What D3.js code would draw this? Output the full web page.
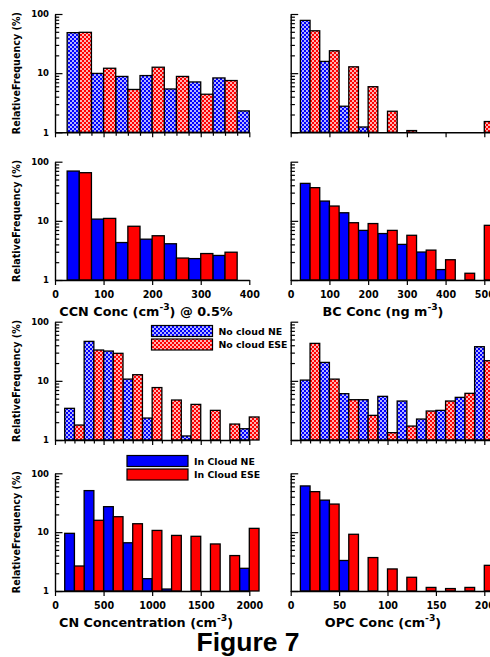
<!DOCTYPE html>
<html>
<head>
<meta charset="utf-8">
<script src="https://cdn.jsdelivr.net/npm/d3@7"></script>
<style>
  body { margin: 0; background: #fff; }
  svg { display: block; }
  text { font-family: "DejaVu Sans", Verdana, sans-serif; font-weight: bold; fill: #000; }
</style>
</head>
<body>
<svg id="fig" width="490" height="657"></svg>
<script>
// ---- CCN concentration @ 0.5% supersaturation (cm-3), 25 cm-3 bins ----
const ccnNoCloudNEStart  = [25, 75, 125, 175, 225, 275, 325, 375];
const ccnNoCloudNE       = [48.4, 9.9, 8.8, 9.1, 5.4, 7.1, 8.3, 2.3];
const ccnNoCloudESEStart = [50, 100, 150, 200, 250, 300, 350];
const ccnNoCloudESE      = [49.0, 12.1, 5.3, 12.6, 8.8, 4.4, 7.5];

const ccnInCloudNEStart  = [25, 75, 125, 175, 225, 275, 325];
const ccnInCloudNE       = [69.5, 10.7, 4.3, 4.9, 4.1, 2.3, 2.6];
const ccnInCloudESEStart = [50, 100, 150, 200, 250, 300, 350];
const ccnInCloudESE      = [65.2, 11.0, 8.1, 5.6, 2.35, 2.8, 2.95];

// ---- BC concentration (ng m-3), 25 ng m-3 bins ----
const bcNoCloudNEStart  = [25, 75, 125, 175];
const bcNoCloudNE       = [78, 15.8, 2.76, 1.23];
const bcNoCloudESEStart = [50, 100, 150, 200, 250, 300, 500];
const bcNoCloudESE      = [52, 23.9, 12.8, 5.9, 2.27, 1.07, 1.52];

const bcInCloudNEStart  = [25, 75, 125, 175, 225, 275, 325, 375];
const bcInCloudNE       = [43, 21.6, 13.7, 6.9, 6.1, 4.0, 2.97, 1.5];
const bcInCloudESEStart = [50, 100, 150, 200, 250, 300, 350, 400, 450, 500];
const bcInCloudESE      = [36.4, 17.8, 9.3, 9.0, 6.9, 5.7, 3.2, 2.2, 1.3, 8.4];

// ---- CN concentration (cm-3), 100 cm-3 bins ----
const cnNoCloudNEStart  = [100, 300, 500, 700, 900, 1300, 1900];
const cnNoCloudNE       = [3.43, 46.5, 31.9, 10.7, 2.35, 1.17, 1.55];
const cnNoCloudESEStart = [200, 400, 600, 800, 1000, 1200, 1400, 1600, 1800, 2000];
const cnNoCloudESE      = [1.79, 33.2, 29.2, 12.7, 7.7, 4.74, 4.0, 3.17, 1.86, 2.45];

const cnInCloudNEStart  = [100, 300, 500, 700, 900, 1100, 1900];
const cnInCloudNE       = [9.55, 50.8, 27.1, 6.6, 1.62, 1.08, 2.43];
const cnInCloudESEStart = [200, 400, 600, 800, 1000, 1200, 1400, 1600, 1800, 2000];
const cnInCloudESE      = [2.66, 15.9, 18.3, 13.9, 10.7, 8.8, 8.5, 6.3, 4.0, 11.6];

// ---- OPC concentration (cm-3), 10 cm-3 bins ----
const opcNoCloudNEStart  = [10, 30, 50, 70, 90, 110, 130, 150, 170, 190];
const opcNoCloudNE       = [10.3, 20.5, 6.07, 4.8, 5.47, 4.56, 2.26, 3.17, 5.26, 37.8];
const opcNoCloudESEStart = [20, 40, 60, 80, 100, 120, 140, 160, 180, 200];
const opcNoCloudESE      = [43, 10.7, 4.8, 2.61, 1.33, 1.72, 3.09, 4.56, 6.15, 21.9];

const opcInCloudNEStart  = [10, 30, 50];
const opcInCloudNE       = [61, 35, 3.3];
const opcInCloudESEStart = [20, 40, 60, 80, 100, 120, 140, 160, 180, 200];
const opcInCloudESE      = [48.8, 30, 9.2, 3.7, 2.37, 1.71, 1.15, 1.1, 1.15, 2.73];

// ---- axis ticks ----
const yMajorTicks = [1, 10, 100];
const yMinorTicks = [2, 3, 4, 5, 6, 7, 8, 9, 20, 30, 40, 50, 60, 70, 80, 90];
const ccnTicks = [0, 100, 200, 300, 400];
const bcTicks  = [0, 100, 200, 300, 400, 500];
const cnTicks  = [0, 500, 1000, 1500, 2000];
const opcTicks = [0, 50, 100, 150, 200];

const legendNoCloud = ["No cloud NE", "No cloud ESE"];
const legendInCloud = ["In Cloud NE", "In Cloud ESE"];

const svg = d3.select("#fig");

// fill patterns for the clear-air (no cloud) bars
const defs = svg.append("defs");
function dotPattern(id, color) {
  const p = defs.append("pattern").attr("id", id)
    .attr("patternUnits", "userSpaceOnUse").attr("width", 4).attr("height", 4);
  p.append("rect").attr("width", 4).attr("height", 4).attr("fill", color);
  [[1, 1], [3, 3]].forEach(([cx, cy]) =>
    p.append("circle").attr("cx", cx).attr("cy", cy).attr("r", 0.95).attr("fill", "#fff"));
}
dotPattern("dotBlue", "#0000ff");
dotPattern("dotRed", "#ff0000");

const colLeft  = [55, 249.3];
const colRight = [290.7, 484.3];
const rows = [[14, 132.3], [161.7, 280], [321.7, 440], [473.3, 591]];

const panels = [
  { col: colLeft,  row: 0, domain: [0, 400], w: 25, ticks: ccnTicks, minorStep: 25, labels: false, yLabels: true, fills: ["url(#dotBlue)", "url(#dotRed)"],
    series: [[ccnNoCloudNEStart, ccnNoCloudNE], [ccnNoCloudESEStart, ccnNoCloudESE]] },
  { col: colRight, row: 0, domain: [0, 500], w: 25, ticks: bcTicks, minorStep: null, labels: false, yLabels: false, extend: 530, fills: ["url(#dotBlue)", "url(#dotRed)"],
    series: [[bcNoCloudNEStart, bcNoCloudNE], [bcNoCloudESEStart, bcNoCloudESE]] },
  { col: colLeft,  row: 1, domain: [0, 400], w: 25, ticks: ccnTicks, minorStep: null, labels: true, yLabels: true, fills: ["#0000ff", "#ff0000"],
    series: [[ccnInCloudNEStart, ccnInCloudNE], [ccnInCloudESEStart, ccnInCloudESE]] },
  { col: colRight, row: 1, domain: [0, 500], w: 25, ticks: bcTicks, minorStep: null, labels: true, yLabels: false, extend: 530, fills: ["#0000ff", "#ff0000"],
    series: [[bcInCloudNEStart, bcInCloudNE], [bcInCloudESEStart, bcInCloudESE]] },
  { col: colLeft,  row: 2, domain: [0, 2000], w: 100, ticks: cnTicks, minorStep: 100, labels: false, yLabels: true, fills: ["url(#dotBlue)", "url(#dotRed)"],
    series: [[cnNoCloudNEStart, cnNoCloudNE], [cnNoCloudESEStart, cnNoCloudESE]] },
  { col: colRight, row: 2, domain: [0, 200], w: 10, ticks: [0, 100, 200], minorStep: 10, labels: false, yLabels: false, extend: 212, fills: ["url(#dotBlue)", "url(#dotRed)"],
    series: [[opcNoCloudNEStart, opcNoCloudNE], [opcNoCloudESEStart, opcNoCloudESE]] },
  { col: colLeft,  row: 3, domain: [0, 2000], w: 100, ticks: cnTicks, minorStep: null, labels: true, yLabels: true, fills: ["#0000ff", "#ff0000"],
    series: [[cnInCloudNEStart, cnInCloudNE], [cnInCloudESEStart, cnInCloudESE]] },
  { col: colRight, row: 3, domain: [0, 200], w: 10, ticks: opcTicks, minorStep: null, labels: true, yLabels: false, extend: 212, fills: ["#0000ff", "#ff0000"],
    series: [[opcInCloudNEStart, opcInCloudNE], [opcInCloudESEStart, opcInCloudESE]] }
];

panels.forEach(p => {
  const [top, bottom] = rows[p.row];
  const x = d3.scaleLinear().domain(p.domain).range(p.col);
  const y = d3.scaleLog().domain([1, 100]).range([bottom, top]);
  const g = svg.append("g");

  // bars
  p.series.forEach(([starts, vals], si) => {
    g.append("g").selectAll("rect")
      .data(starts.map((s, i) => ({ s, v: vals[i] })))
      .join("rect")
      .attr("x", d => x(d.s))
      .attr("width", d => x(d.s + p.w) - x(d.s))
      .attr("y", d => y(d.v))
      .attr("height", d => y(1) - y(d.v))
      .attr("fill", p.fills[si])
      .attr("stroke", "#000")
      .attr("stroke-width", 1.3);
  });

  // x axis
  const xAxisScale = p.extend ? x.copy().domain([p.domain[0], p.extend]).range([x(p.domain[0]), x(p.extend)]) : x;
  const xa = g.append("g").attr("transform", `translate(0,${bottom})`)
    .call(d3.axisBottom(xAxisScale).tickValues(p.ticks).tickSizeInner(5).tickSizeOuter(0).tickPadding(6.5)
      .tickFormat(p.labels ? d3.format("d") : ""));
  xa.selectAll("text").style("font-size", "9.6px");
  if (p.minorStep) {
    const minor = d3.range(p.domain[0], p.domain[1] + 1e-9, p.minorStep).filter(v => !p.ticks.includes(v));
    const xm = g.append("g").attr("transform", `translate(0,${bottom})`)
      .call(d3.axisBottom(x).tickValues(minor).tickSizeInner(3.5).tickSizeOuter(0).tickFormat(""));
    xm.select(".domain").remove();
  }

  // y axis (log), ticks pointing inward
  const ya = g.append("g").attr("transform", `translate(${p.col[0]},0)`)
    .call(d3.axisLeft(y).tickValues(yMajorTicks).tickSizeInner(-7.5).tickSizeOuter(0).tickPadding(6)
      .tickFormat(p.yLabels ? d3.format("d") : ""));
  ya.selectAll("text").style("font-size", "8.5px");
  const ym = g.append("g").attr("transform", `translate(${p.col[0]},0)`)
    .call(d3.axisLeft(y).tickValues(yMinorTicks).tickSizeInner(-4.2).tickSizeOuter(0).tickFormat(""));
  ym.select(".domain").remove();

  g.selectAll(".domain").attr("stroke", "#000").attr("stroke-width", 1.4);
  g.selectAll(".tick line").attr("stroke", "#000").attr("stroke-width", 1.2);

  if (p.yLabels) {
    svg.append("text")
      .attr("transform", `translate(19.5,${(top + bottom) / 2}) rotate(-90)`)
      .attr("text-anchor", "middle")
      .style("font-size", "9.6px")
      .text("RelativeFrequency (%)");
  }
});

// axis titles with superscripts
function title(x, y, parts, size) {
  const t = svg.append("text").attr("x", x).attr("y", y)
    .attr("text-anchor", "middle").style("font-size", size + "px");
  let shift = 0;
  parts.forEach(([txt, sup]) => {
    const target = sup ? -size * 0.42 : 0;
    t.append("tspan").attr("dy", target - shift)
      .style("font-size", (sup ? size * 0.72 : size) + "px").text(txt);
    shift = target;
  });
}
title(146, 315.7, [["CCN Conc (cm", false], ["-3", true], [") @ 0.5%", false]], 12.8);
title(383, 315.7, [["BC Conc (ng m", false], ["-3", true], [")", false]], 12.8);
title(146, 626.7, [["CN Concentration (cm", false], ["-3", true], [")", false]], 12.8);
title(383, 626.7, [["OPC Conc (cm", false], ["-3", true], [")", false]], 12.8);

// legends
function legend(x0, y0, labels, fills) {
  const lg = svg.append("g");
  labels.forEach((lab, i) => {
    lg.append("rect").attr("x", x0).attr("y", y0 + i * 13.5)
      .attr("width", 61).attr("height", 11)
      .attr("fill", fills[i]).attr("stroke", "#000").attr("stroke-width", 1.2);
    lg.append("text").attr("x", x0 + 67).attr("y", y0 + i * 13.5 + 9)
      .style("font-size", "9.4px").text(lab);
  });
}
legend(151.5, 325.5, legendNoCloud, ["url(#dotBlue)", "url(#dotRed)"]);
legend(127, 455.5, legendInCloud, ["#0000ff", "#ff0000"]);

svg.append("text").attr("x", 248).attr("y", 651)
  .attr("text-anchor", "middle")
  .style("font-family", "'Liberation Sans', Arial, sans-serif")
  .style("font-size", "26.5px")
  .text("Figure 7");
</script>
</body>
</html>
